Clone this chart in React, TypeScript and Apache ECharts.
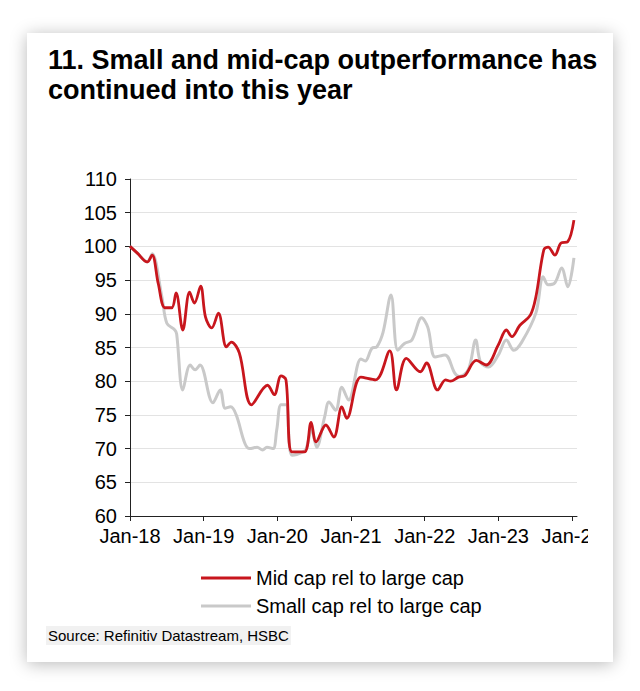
import React, { useEffect, useRef } from "react";
import * as echarts from "echarts";

// Months since Jan-18 (fractional) and index values
const midMonths = [0, 1.2, 2.8, 3.6, 4.6, 5.7, 6.8, 7.5, 8.6, 9.7, 10.5, 11.5, 12.3, 13.3, 14.4, 15.7, 16.5, 17.8, 19.8, 22.4, 23.5, 24.6, 25.4, 26.4, 28.4, 29.5, 30.3, 31.9, 33.2, 34.5, 35.3, 37.6, 40, 42.3, 43.4, 45, 47.3, 48.3, 50.1, 51.4, 52.2, 53.5, 54.5, 56.4, 58, 60, 61.3, 62.2, 63.5, 65.2, 66.1, 67.4, 68.1, 69.2, 70.2, 71.3, 72.3];
const midValues = [100, 99.0, 97.7, 98.7, 94.5, 90.9, 90.9, 93.1, 87.6, 93.2, 91.6, 94.1, 89.5, 87.9, 90.1, 85.1, 85.8, 84.2, 76.5, 79.4, 78.0, 80.8, 80.2, 69.5, 69.5, 73.9, 71.0, 73.5, 71.7, 76.2, 74.5, 80.6, 80.2, 84.5, 78.7, 83.4, 81.4, 82.7, 78.7, 80.2, 80.0, 80.6, 80.8, 83.1, 82.4, 85.4, 87.6, 86.6, 88.3, 89.8, 92.5, 99.5, 99.9, 98.7, 100.5, 100.7, 103.9];

const smallMonths = [0, 1.2, 2.8, 3.6, 5.2, 6.0, 7.3, 7.6, 8.6, 9.8, 10.6, 11.4, 13.5, 14.7, 15.5, 16.4, 17.3, 18.7, 19.5, 20.7, 21.6, 22.3, 23.3, 23.9, 24.6, 25.4, 26.4, 28.2, 28.7, 29.6, 30.4, 31.7, 32.4, 33.5, 34.5, 35.6, 37.6, 38.3, 39.4, 40.2, 41.2, 42.5, 43.6, 44.7, 45.9, 47.5, 48.5, 49.7, 51.3, 52.9, 53.6, 55.1, 56.3, 57.1, 58.4, 60.0, 61.3, 62.5, 63.8, 66.1, 67.3, 68.1, 69.2, 70.3, 71.3, 72.3];
const smallValues = [100, 99.0, 97.7, 98.9, 92.5, 88.6, 87.6, 87.0, 78.7, 82.4, 81.7, 82.4, 76.8, 78.7, 76.0, 76.2, 75.0, 70.8, 70.0, 70.2, 69.8, 70.2, 70.0, 72.8, 76.5, 76.5, 69.0, 69.5, 70.0, 72.8, 70.2, 74.7, 76.9, 75.7, 79.1, 77.2, 83.3, 83.0, 84.9, 85.1, 87.2, 92.8, 84.6, 85.6, 86.1, 89.4, 88.0, 83.6, 83.9, 81.2, 80.7, 81.7, 86.1, 82.8, 82.1, 83.9, 86.1, 84.6, 85.8, 90.1, 95.5, 94.3, 94.6, 96.8, 94.0, 98.3];

const yearLabels = ["Jan-18", "Jan-19", "Jan-20", "Jan-21", "Jan-22", "Jan-23", "Jan-24"];
const seriesNames = ["Mid cap rel to large cap", "Small cap rel to large cap"];
const titleText = "11. Small and mid-cap outperformance has\ncontinued into this year";
const sourceText = "Source: Refinitiv Datastream, HSBC";

const FONT = "'Liberation Sans', Arial, Helvetica, sans-serif";

export default function App() {
  const ref = useRef<HTMLDivElement>(null);
  useEffect(() => {
    if (!ref.current) return;
    const chart = echarts.init(ref.current, null, { renderer: "svg" });
    const mid = midMonths.map((m, i) => [m, midValues[i]]);
    const small = smallMonths.map((m, i) => [m, smallValues[i]]);
    chart.setOption({
      animation: false,
      title: [
        {
          text: titleText,
          left: 43,
          top: 40,
          textStyle: { fontFamily: FONT, fontSize: 27, fontWeight: "bold", color: "#000", lineHeight: 30 },
        },
        {
          text: sourceText,
          left: 46,
          top: 626,
          padding: [2, 2, 2, 2],
          backgroundColor: "#f1f1f1",
          textStyle: { fontFamily: FONT, fontSize: 15, fontWeight: "normal", color: "#000" },
        },
      ],
      legend: {
        orient: "vertical",
        left: 196,
        top: 563,
        itemWidth: 50,
        itemHeight: 3,
        itemGap: 8,
        icon: "rect",
        data: seriesNames,
        textStyle: { fontFamily: FONT, fontSize: 20, color: "#000" },
      },
      grid: { left: 130, right: 63, top: 179, bottom: 175, containLabel: false },
      xAxis: {
        type: "value",
        min: 0,
        max: 72.8,
        interval: 12,
        axisLine: { show: true, lineStyle: { color: "#222", width: 1 } },
        axisTick: { show: true, length: 5, lineStyle: { color: "#222" } },
        splitLine: { show: false },
        axisLabel: {
          showMaxLabel: false,
          fontFamily: FONT,
          fontSize: 20,
          color: "#000",
          margin: 10,
          formatter: (v: number) => {
            const idx = Math.round(v / 12);
            return Math.abs(v - idx * 12) < 0.01 ? yearLabels[idx] ?? "" : "";
          },
        },
      },
      yAxis: {
        type: "value",
        min: 60,
        max: 110,
        interval: 5,
        axisLine: { show: true, lineStyle: { color: "#222", width: 1 } },
        axisTick: { show: true, length: 5, lineStyle: { color: "#222" } },
        splitLine: { show: true, lineStyle: { color: "#e3e3e3", width: 1 } },
        axisLabel: { fontFamily: FONT, fontSize: 20, color: "#000", margin: 13 },
      },
      series: [
        {
          name: seriesNames[1],
          type: "line",
          data: small,
          smooth: 0.35,
          showSymbol: false,
          symbol: "none",
          color: "#c9c9c9",
          lineStyle: { color: "#c9c9c9", width: 3 },
          z: 2,
        },
        {
          name: seriesNames[0],
          type: "line",
          data: mid,
          smooth: 0.35,
          showSymbol: false,
          symbol: "none",
          color: "#c8161d",
          lineStyle: { color: "#c8161d", width: 2.8 },
          z: 3,
        },
      ],
      graphic: [
        {
          type: "rect",
          left: 588,
          top: 522,
          shape: { width: 24, height: 28 },
          style: { fill: "#fff" },
          z: 100,
        },
      ],
    });
    return () => chart.dispose();
  }, []);

  return (
    <div style={{ position: "fixed", left: 0, top: 0, width: 640, height: 691, background: "#fff" }}>
      <div
        style={{
          position: "absolute",
          left: 27,
          top: 33,
          width: 586,
          height: 629,
          background: "#fff",
          boxShadow: "0 2px 16px rgba(0,0,0,0.28)",
        }}
      />
      <div ref={ref} style={{ position: "absolute", left: 0, top: 0, width: 640, height: 691 }} />
    </div>
  );
}
